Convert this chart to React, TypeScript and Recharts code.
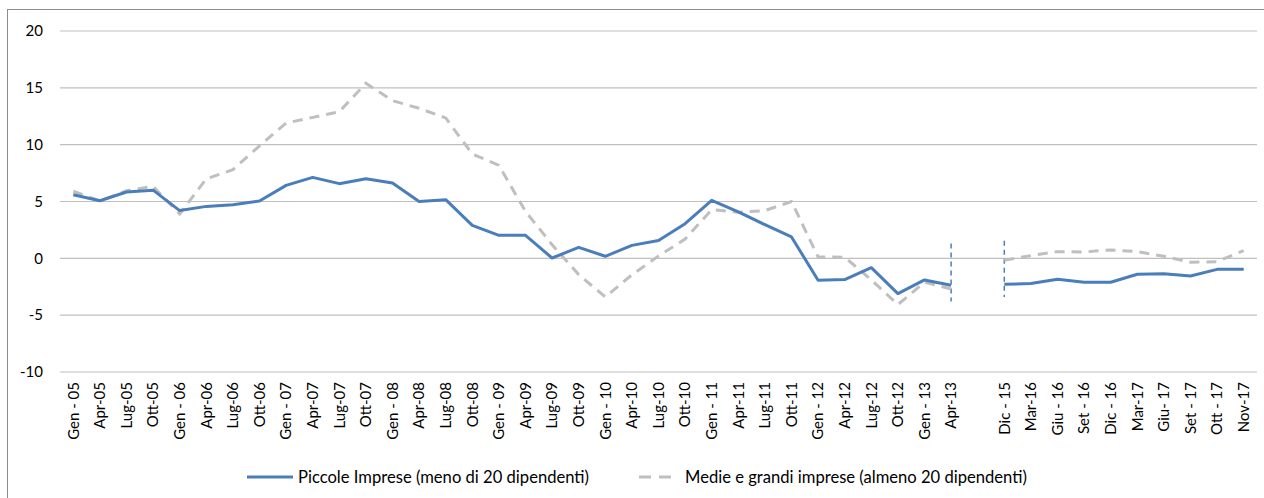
import React from 'react';
import { LineChart, Line, XAxis, YAxis, CartesianGrid, Legend, ReferenceLine } from 'recharts';

const categories = ['Gen - 05','Apr-05','Lug-05','Ott-05','Gen - 06','Apr-06','Lug-06','Ott-06','Gen - 07','Apr-07','Lug-07','Ott-07','Gen - 08','Apr-08','Lug-08','Ott-08','Gen - 09','Apr-09','Lug-09','Ott-09','Gen - 10','Apr-10','Lug-10','Ott-10','Gen - 11','Apr-11','Lug-11','Ott-11','Gen - 12','Apr-12','Lug-12','Ott-12','Gen - 13','Apr-13','','Dic - 15','Mar-16','Giu - 16','Set - 16','Dic - 16','Mar-17','Giu- 17','Set - 17','Ott - 17','Nov-17'];

const piccole = [5.6,5.07,5.84,6.0,4.2,4.57,4.72,5.05,6.42,7.12,6.57,7.0,6.63,5.0,5.16,2.9,2.02,2.02,0.03,0.97,0.18,1.14,1.56,3.05,5.1,4.08,2.96,1.88,-1.93,-1.87,-0.82,-3.1,-1.9,-2.37,null,-2.28,-2.22,-1.84,-2.1,-2.1,-1.4,-1.35,-1.55,-0.97,-0.97];

const medieGrandi = [5.9,5.05,5.95,6.33,3.9,7.0,7.8,9.9,11.9,12.4,12.9,15.4,13.87,13.2,12.35,9.18,8.18,4.13,1.2,-1.43,-3.4,-1.45,0.2,1.7,4.28,4.05,4.2,5.0,0.12,0.1,-1.9,-4.07,-2.1,-2.7,null,-0.17,0.24,0.59,0.56,0.74,0.59,0.18,-0.35,-0.29,0.68];

const yTicks = [-10,-5,0,5,10,15,20];

const breakCats = ['Apr-13','Dic - 15'];
const breakTop = [1.3, 1.55];
const breakBottom = [-3.8, -3.4];

const seriesNames = ['Piccole Imprese (meno di 20 dipendenti)', 'Medie e grandi imprese (almeno 20 dipendenti)'];

const data = categories.map((c, i) => ({ cat: c, piccole: piccole[i], medie: medieGrandi[i] }));

const FONT = 'Lato, "Open Sans", sans-serif';
const BLUE = '#4A7EBB';
const GRAY = '#BFBFBF';

const XTick = (props: any) => {
  const { x, y, payload } = props;
  return (
    <text x={x} y={y} dy="0.35em" transform={`rotate(-90, ${x}, ${y})`} textAnchor="end"
      fontFamily={FONT} fontSize={15} fill="#000">{payload.value}</text>
  );
};

const renderLegend = () => (
  <div style={{ display: 'flex', alignItems: 'center', fontFamily: FONT, fontSize: 16.6, color: '#000', whiteSpace: 'nowrap' }}>
    <div style={{ display: 'flex', alignItems: 'center' }}>
      <svg width={46} height={8}>
        <line x1={0} y1={4} x2={46} y2={4} stroke={BLUE} strokeWidth={3} />
      </svg>
      <span style={{ marginLeft: 5 }}>{seriesNames[0]}</span>
    </div>
    <div style={{ display: 'flex', alignItems: 'center', marginLeft: 50 }}>
      <svg width={36} height={8}>
        <line x1={0} y1={4} x2={36} y2={4} stroke={GRAY} strokeWidth={3} strokeDasharray="12 8" />
      </svg>
      <span style={{ marginLeft: 10 }}>{seriesNames[1]}</span>
    </div>
  </div>
);

export default function App() {
  return (
    <div style={{ position: 'absolute', left: 0, top: 0, width: 1264, height: 498, background: '#fff', overflow: 'hidden' }}>
      <div style={{ position: 'absolute', left: 7, top: 9, width: 1300, height: 600, borderLeft: '1.5px solid #8c8c8c', borderTop: '1.5px solid #8c8c8c' }} />
      <div style={{ position: 'absolute', left: 0, top: 0 }}>
        <LineChart width={1264} height={498} data={data} margin={{ top: 31, right: 7, left: 0, bottom: 40 }}>
          <CartesianGrid vertical={false} stroke="#BFBFBF" strokeWidth={1.2} />
          <XAxis dataKey="cat" scale="band" interval={0} axisLine={false} tickLine={false} tickSize={0} tickMargin={10}
            height={86} tick={<XTick />} />
          <YAxis domain={[-10, 20]} ticks={yTicks} width={60} axisLine={false} tickLine={false} tickSize={0} tickMargin={17}
            tick={{ fontFamily: FONT, fontSize: 15, fill: '#000' }} interval={0} />
          {breakCats.map((c, i) => (
            <ReferenceLine key={c} segment={[{ x: c, y: breakTop[i] }, { x: c, y: breakBottom[i] }]}
              stroke={BLUE} strokeWidth={1.5} strokeDasharray="5 4" />
          ))}
          <Line type="linear" dataKey="medie" name={seriesNames[1]} stroke={GRAY} strokeWidth={3}
            strokeDasharray="10 7" dot={false} isAnimationActive={false} connectNulls={false} />
          <Line type="linear" dataKey="piccole" name={seriesNames[0]} stroke={BLUE} strokeWidth={3}
            dot={false} isAnimationActive={false} connectNulls={false} strokeLinejoin="round" />
          <Legend verticalAlign="middle" align="center" content={renderLegend}
            wrapperStyle={{ top: 467, left: 247, width: 'auto' }} />
        </LineChart>
      </div>
    </div>
  );
}
